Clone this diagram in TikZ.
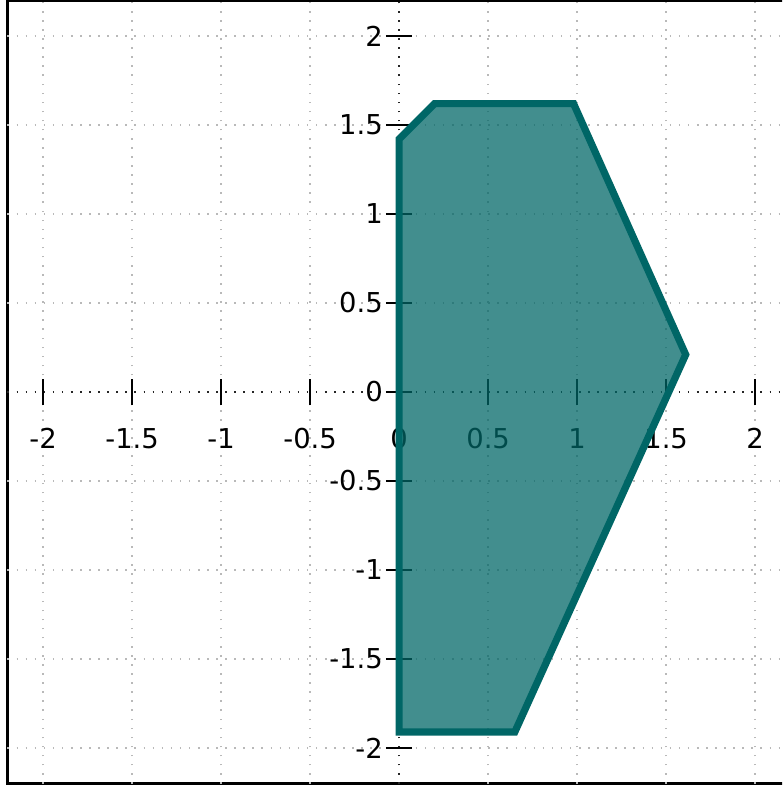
\documentclass[tikz,border=0pt]{standalone}
\usepackage{fontspec}
\setmainfont{DejaVu Sans}
\usepackage{xcolor}
\usepackage{tikz}
\usetikzlibrary{calc, positioning}
\definecolor{tealline}{RGB}{0,102,102}

\begin{document}
\begin{tikzpicture}[scale=4, font=\fontsize{17.5}{20}\selectfont,
    gridline/.style={gray!55, line width=1pt, dash pattern=on 1pt off 4.8pt},
    axisline/.style={black!85, line width=1pt, dash pattern=on 1pt off 4.8pt},
    tickmark/.style={line width=1.4pt}]
    % 1. Khung
    \clip (-2.242,-2.219) rectangle (2.152,2.202);
    \draw[line width=2.1pt] (-2.2,-2.2) rectangle (2.2,2.2);
    % 2. Luoi
    \foreach \t in {-2,-1.5,-1,-0.5,0,0.5,1,1.5,2} {
        \draw[gridline] (\t,-2.2) -- (\t,2.2);
        \draw[gridline] (-2.2,\t) -- (2.2,\t);
    }
    % 3. Truc toa do va vach chia
    \draw[axisline] (-2.2,0) -- (2.2,0);
    \draw[axisline] (0,-2.2) -- (0,2.2);
    \foreach \t [count=\i] in {-2,-1.5,-1,-0.5,0,0.5,1,1.5,2} {
        \draw[tickmark] (\t,-0.075) -- (\t,0.075);
        \draw[tickmark] (-0.075,\t) -- (0.075,\t);
        \node[anchor=base, inner sep=0] (xlab\i) at (\t,-0.315) {\t};
        \node[anchor=east, inner sep=0] (ylab\i) at (-0.09,\t) {\t};
    }
    % 4. Da giac
    \draw[tealline, line width=4.6pt, fill=tealline, fill opacity=0.74]
        (0,1.42) -- (0.2,1.62) -- (0.98,1.62) -- (1.61,0.21)
        -- (0.65,-1.91) -- (0,-1.91) -- cycle;
\end{tikzpicture}
\end{document}
